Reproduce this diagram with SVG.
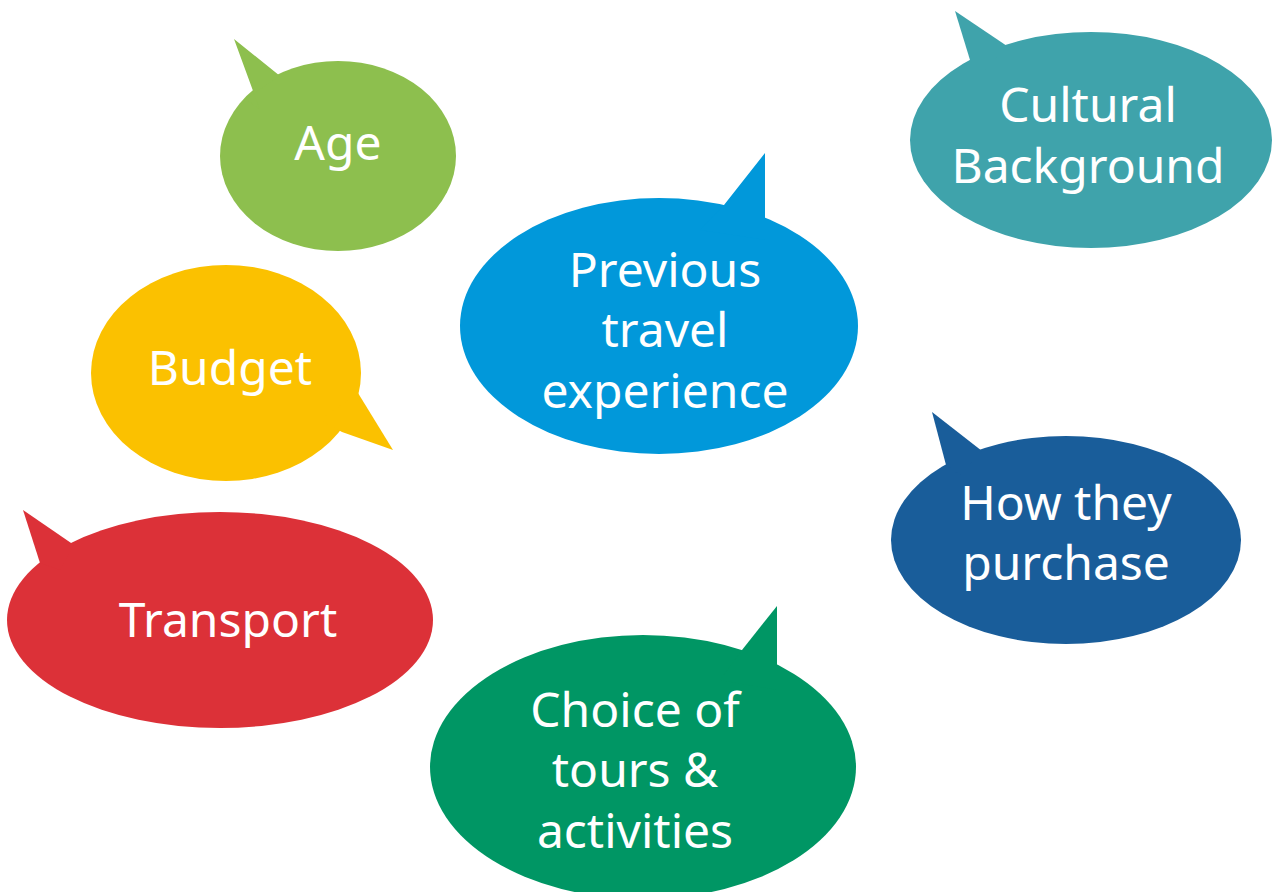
<svg xmlns="http://www.w3.org/2000/svg" width="1272" height="892" viewBox="0 0 1272 892">
<style>
text{font-family:"Noto Sans","Open Sans","Liberation Sans",sans-serif;font-size:48px;fill:#fff;text-anchor:middle}
</style>
<rect width="1272" height="892" fill="#fff"/>
<g id="age" fill="#8DBF4E">
<ellipse cx="338" cy="156" rx="118" ry="95"/>
<polygon points="234,39 280,76 246,99 260,110"/>
<text x="338" y="160">Age</text>
</g>
<g id="budget" fill="#FBC100">
<ellipse cx="226" cy="373" rx="135" ry="108"/>
<polygon points="393,450 358,393 320,420 342,432"/>
<text x="230" y="385">Budget</text>
</g>
<g id="transport" fill="#DC3138">
<ellipse cx="220" cy="620" rx="213" ry="108"/>
<polygon points="23,510 74,545 60,570 40,563"/>
<text x="228" y="637">Transport</text>
</g>
<g id="previous" fill="#0198DA">
<ellipse cx="659" cy="326" rx="199" ry="128"/>
<polygon points="765,153 724,205 700,230 765,240"/>
<text x="665" y="287">Previous</text>
<text x="665" y="347">travel</text>
<text x="665" y="408">experience</text>
</g>
<g id="cultural" fill="#3FA3AB">
<ellipse cx="1091" cy="140" rx="181" ry="108"/>
<polygon points="955,11 1007,46 985,70 970,60"/>
<text x="1088" y="122">Cultural</text>
<text x="1088" y="183">Background</text>
</g>
<g id="purchase" fill="#195D9A">
<ellipse cx="1066" cy="540" rx="175" ry="104"/>
<polygon points="932,412 982,451 960,475 946,465"/>
<text x="1066" y="520">How they</text>
<text x="1066" y="580">purchase</text>
</g>
<g id="choice" fill="#009664">
<ellipse cx="643" cy="767" rx="213" ry="132"/>
<polygon points="777,606 742,650 720,680 777,690"/>
<text x="635" y="727">Choice of</text>
<text x="635" y="787">tours &amp;</text>
<text x="635" y="848">activities</text>
</g>
<g id="connectors"/>
</svg>
